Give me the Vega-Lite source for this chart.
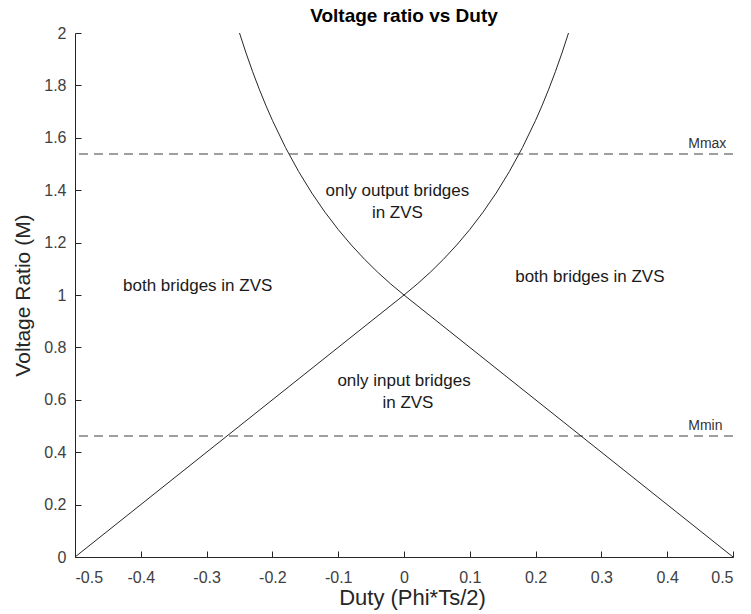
{
  "$schema": "https://vega.github.io/schema/vega-lite/v6.json",
  "width": 658,
  "height": 524,
  "autosize": {"type": "none"},
  "padding": {"left": 75, "top": 33, "right": 18, "bottom": 57},
  "background": "white",
  "config": {
    "view": {"stroke": null},
    "font": "Liberation Sans",
    "axis": {
      "grid": false,
      "domainColor": "#262626",
      "domainWidth": 1,
      "tickColor": "#262626",
      "labelColor": "#404040",
      "titleColor": "#262626",
      "labelFont": "Liberation Sans",
      "titleFont": "Liberation Sans",
      "labelFontSize": 16,
      "titleFontSize": 21,
      "titleFontWeight": "normal"
    }
  },
  "title": {
    "text": "Voltage ratio vs Duty",
    "font": "Liberation Sans",
    "fontSize": 19,
    "fontWeight": "bold",
    "color": "#000000",
    "anchor": "middle",
    "frame": "group",
    "baseline": "alphabetic",
    "offset": 6,
    "dy": 22
  },
  "datasets": {
    "curves": [
      {"curve": "rising", "duty": -0.5, "m": 0},
      {"curve": "rising", "duty": 0, "m": 1},
      {"curve": "rising", "duty": 0.02, "m": 1.0417},
      {"curve": "rising", "duty": 0.04, "m": 1.087},
      {"curve": "rising", "duty": 0.06, "m": 1.1364},
      {"curve": "rising", "duty": 0.08, "m": 1.1905},
      {"curve": "rising", "duty": 0.1, "m": 1.25},
      {"curve": "rising", "duty": 0.12, "m": 1.3158},
      {"curve": "rising", "duty": 0.14, "m": 1.3889},
      {"curve": "rising", "duty": 0.16, "m": 1.4706},
      {"curve": "rising", "duty": 0.18, "m": 1.5625},
      {"curve": "rising", "duty": 0.2, "m": 1.6667},
      {"curve": "rising", "duty": 0.21, "m": 1.7241},
      {"curve": "rising", "duty": 0.22, "m": 1.7857},
      {"curve": "rising", "duty": 0.23, "m": 1.8519},
      {"curve": "rising", "duty": 0.24, "m": 1.9231},
      {"curve": "rising", "duty": 0.25, "m": 2},
      {"curve": "falling", "duty": -0.25, "m": 2},
      {"curve": "falling", "duty": -0.24, "m": 1.9231},
      {"curve": "falling", "duty": -0.23, "m": 1.8519},
      {"curve": "falling", "duty": -0.22, "m": 1.7857},
      {"curve": "falling", "duty": -0.21, "m": 1.7241},
      {"curve": "falling", "duty": -0.2, "m": 1.6667},
      {"curve": "falling", "duty": -0.18, "m": 1.5625},
      {"curve": "falling", "duty": -0.16, "m": 1.4706},
      {"curve": "falling", "duty": -0.14, "m": 1.3889},
      {"curve": "falling", "duty": -0.12, "m": 1.3158},
      {"curve": "falling", "duty": -0.1, "m": 1.25},
      {"curve": "falling", "duty": -0.08, "m": 1.1905},
      {"curve": "falling", "duty": -0.06, "m": 1.1364},
      {"curve": "falling", "duty": -0.04, "m": 1.087},
      {"curve": "falling", "duty": -0.02, "m": 1.0417},
      {"curve": "falling", "duty": 0, "m": 1},
      {"curve": "falling", "duty": 0.5, "m": 0}
    ],
    "limits": [
      {"name": "Mmax", "m": 1.538, "duty": 0.432, "labelY": 1.576},
      {"name": "Mmin", "m": 0.462, "duty": 0.432, "labelY": 0.5}
    ],
    "regionsLeft": [
      {"label": "both bridges in ZVS", "duty": -0.427, "m": 1.034},
      {"label": "both bridges in ZVS", "duty": 0.169, "m": 1.069}
    ],
    "regionsCenter": [
      {"label": "only output bridges", "duty": -0.01, "m": 1.397},
      {"label": "in ZVS", "duty": -0.01, "m": 1.313},
      {"label": "only input bridges", "duty": 0.0, "m": 0.672},
      {"label": "in ZVS", "duty": 0.006, "m": 0.588}
    ]
  },
  "layer": [
    {
      "data": {"name": "limits"},
      "mark": {"type": "rule", "color": "#808080", "strokeWidth": 1.4, "strokeDash": [9, 6]},
      "encoding": {
        "y": {
          "field": "m",
          "type": "quantitative",
          "scale": {"domain": [0, 2], "nice": false, "zero": false},
          "axis": {
            "values": [0, 0.2, 0.4, 0.6, 0.8, 1, 1.2, 1.4, 1.6, 1.8, 2],
            "format": "~g",
            "title": "Voltage Ratio (M)",
            "tickSize": -6,
            "labelPadding": 15,
            "titlePadding": 10
          }
        }
      }
    },
    {
      "data": {"name": "curves"},
      "mark": {"type": "line", "color": "#262626", "strokeWidth": 1, "clip": true},
      "encoding": {
        "x": {
          "field": "duty",
          "type": "quantitative",
          "scale": {"domain": [-0.5, 0.5], "nice": false, "zero": false},
          "axis": {
            "values": [-0.5, -0.4, -0.3, -0.2, -0.1, 0, 0.1, 0.2, 0.3, 0.4, 0.5],
            "format": "~g",
            "labelExpr": "replace(datum.label, '\u2212', '-')",
            "title": "Duty (Phi*Ts/2)",
            "titleFontSize": 22,
            "titleX": 337,
            "tickSize": -6,
            "labelPadding": 18,
            "titlePadding": 2
          }
        },
        "y": {"field": "m", "type": "quantitative"},
        "detail": {"field": "curve"},
        "order": {"field": "duty", "type": "quantitative"}
      }
    },
    {
      "data": {"name": "limits"},
      "mark": {"type": "text", "align": "left", "baseline": "middle", "fontSize": 14, "color": "#333333"},
      "encoding": {
        "x": {"field": "duty", "type": "quantitative"},
        "y": {"field": "labelY", "type": "quantitative"},
        "text": {"field": "name"}
      }
    },
    {
      "data": {"name": "regionsLeft"},
      "mark": {"type": "text", "align": "left", "baseline": "middle", "fontSize": 17, "color": "#1a1a1a"},
      "encoding": {
        "x": {"field": "duty", "type": "quantitative"},
        "y": {"field": "m", "type": "quantitative"},
        "text": {"field": "label"}
      }
    },
    {
      "data": {"name": "regionsCenter"},
      "mark": {"type": "text", "align": "center", "baseline": "middle", "fontSize": 17, "color": "#1a1a1a"},
      "encoding": {
        "x": {"field": "duty", "type": "quantitative"},
        "y": {"field": "m", "type": "quantitative"},
        "text": {"field": "label"}
      }
    }
  ]
}
